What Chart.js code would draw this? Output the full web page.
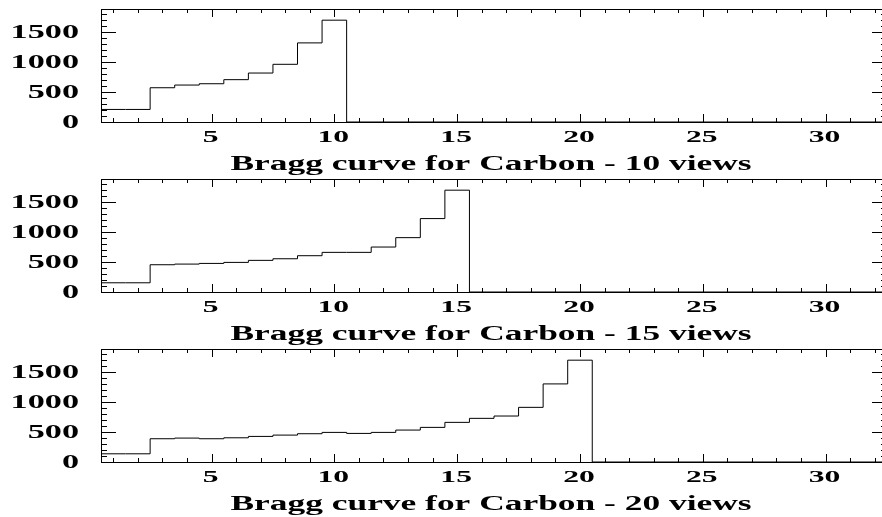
<!DOCTYPE html>
<html>
<head>
<meta charset="utf-8">
<script src="https://cdn.jsdelivr.net/npm/chart.js@4"></script>
<style>
  html, body { margin: 0; padding: 0; background: #fff; }
  body { width: 882px; height: 517px; position: relative; overflow: hidden; }
  .panel { position: absolute; left: 0; width: 900px; height: 180px; }
</style>
</head>
<body>
<div class="panel" style="top:0px"><canvas id="views10" width="900" height="180"></canvas></div>
<div class="panel" style="top:170px"><canvas id="views15" width="900" height="180"></canvas></div>
<div class="panel" style="top:340px"><canvas id="views20" width="900" height="180"></canvas></div>
<script>
// energy deposit per view (bins centred on 1, 2, 3, ...)
const bragg10 = [210, 210, 573, 618, 640, 708, 819, 965, 1323, 1703];
const bragg15 = [154, 154, 456, 467, 478, 495, 529, 556, 607, 663, 663, 752, 909, 1228, 1703];
const bragg20 = [137, 137, 389, 400, 389, 405, 428, 450, 473, 495, 478, 495, 534, 579, 663, 730, 769, 914, 1306, 1703];

const titles = [
  'Bragg curve for Carbon - 10 views',
  'Bragg curve for Carbon - 15 views',
  'Bragg curve for Carbon - 20 views'
];

const xMajorTicks = [5, 10, 15, 20, 25, 30];
const yMajorTicks = [0, 500, 1000, 1500];
const xRange = [0.5, 32.5];
const yRange = [0, 1890];
const xMinorStep = 1;
const yMinorStep = 100;

const FONT = '"Liberation Serif", "Times New Roman", serif';

// histogram outline: left bin edges, stepped, then back down to zero
function outline(values) {
  const pts = values.map((v, i) => ({ x: i + 0.5, y: v }));
  pts.push({ x: values.length + 0.5, y: 0 });
  pts.push({ x: xRange[1], y: 0 });
  return pts;
}

function wideText(ctx, text, x, y, size, sx, align) {
  ctx.save();
  ctx.translate(x, y);
  ctx.scale(sx, 1);
  ctx.font = 'bold ' + size + 'px ' + FONT;
  ctx.textAlign = align;
  ctx.textBaseline = 'alphabetic';
  ctx.fillStyle = '#000';
  ctx.fillText(text, 0, 0);
  ctx.restore();
}

// frame with inward ticks on all four sides, labels and axis title
const rootFrame = {
  id: 'rootFrame',
  afterDraw(chart, args, opts) {
    const { ctx, chartArea: a, scales: { x, y } } = chart;
    ctx.save();
    ctx.strokeStyle = '#000';
    ctx.lineWidth = 1;
    ctx.strokeRect(a.left + 0.5, a.top + 0.5, a.right - a.left, a.bottom - a.top);

    ctx.beginPath();
    for (let v = Math.ceil(xRange[0]); v < xRange[1]; v += xMinorStep) {
      const px = Math.round(x.getPixelForValue(v)) + 0.5;
      const len = xMajorTicks.includes(v) ? 8 : 4;
      ctx.moveTo(px, a.bottom); ctx.lineTo(px, a.bottom - len);
      ctx.moveTo(px, a.top); ctx.lineTo(px, a.top + len);
    }
    for (let v = yRange[0]; v < yRange[1]; v += yMinorStep) {
      const py = Math.round(y.getPixelForValue(v)) + 0.5;
      const len = yMajorTicks.includes(v) ? 15 : 6;
      ctx.moveTo(a.left, py); ctx.lineTo(a.left + len, py);
      ctx.moveTo(a.right, py); ctx.lineTo(a.right - len, py);
    }
    ctx.stroke();
    ctx.restore();

    xMajorTicks.forEach(v => {
      wideText(ctx, String(v), x.getPixelForValue(v) - 1, a.bottom + 20, 17, 1.86, 'center');
    });
    yMajorTicks.forEach(v => {
      wideText(ctx, String(v), 79, y.getPixelForValue(v) + 6, 18, 1.9, 'right');
    });
    wideText(ctx, opts.title, (a.left + a.right) / 2 - 3, a.bottom + 48, 20, 1.77, 'center');
  }
};

function drawPanel(id, values, title) {
  new Chart(document.getElementById(id), {
    type: 'line',
    data: {
      datasets: [{
        data: outline(values),
        stepped: true,
        borderColor: '#000',
        borderWidth: 1,
        pointRadius: 0,
        fill: false
      }]
    },
    options: {
      responsive: false,
      animation: false,
      layout: { padding: { left: 101, right: 13, top: 9, bottom: 58 } },
      plugins: {
        legend: { display: false },
        tooltip: { enabled: false },
        rootFrame: { title: title }
      },
      scales: {
        x: { type: 'linear', min: xRange[0], max: xRange[1], display: false },
        y: { type: 'linear', min: yRange[0], max: yRange[1], display: false }
      }
    },
    plugins: [rootFrame]
  });
}

drawPanel('views10', bragg10, titles[0]);
drawPanel('views15', bragg15, titles[1]);
drawPanel('views20', bragg20, titles[2]);
</script>
</body>
</html>
